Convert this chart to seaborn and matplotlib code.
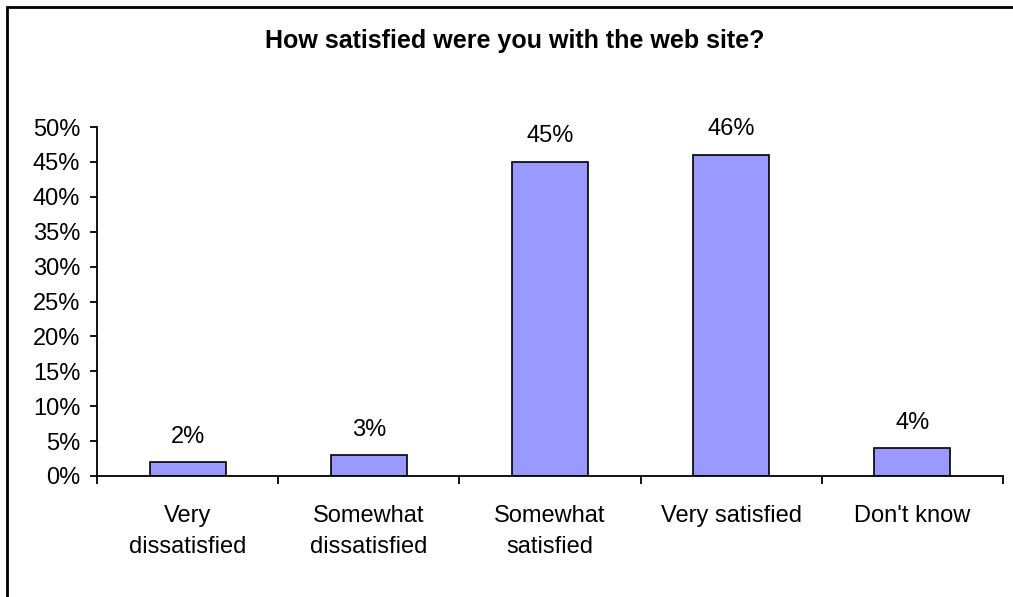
import matplotlib
matplotlib.use("Agg")
import matplotlib.pyplot as plt
from matplotlib.patches import Rectangle
from matplotlib.ticker import FixedLocator, PercentFormatter
import seaborn as sns
import pandas as pd
import numpy as np

categories = ["Very\ndissatisfied", "Somewhat\ndissatisfied", "Somewhat\nsatisfied",
              "Very satisfied", "Don't know"]
shares = [0.02, 0.03, 0.45, 0.46, 0.04]
value_labels = ["2%", "3%", "45%", "46%", "4%"]
title = "How satisfied were you with the web site?"

sns.set_theme(style="white")
plt.rcParams["font.family"] = ["Liberation Sans", "DejaVu Sans"]

df = pd.DataFrame({"category": categories, "share": shares})

fig = plt.figure(figsize=(10.13, 5.97), dpi=100)
ax = fig.add_axes([97 / 1013, 1 - 476 / 597, (1003 - 97) / 1013, (476 - 127) / 597])

sns.barplot(data=df, x="category", y="share", color="#9999FF", saturation=1,
            edgecolor="black", linewidth=1.2, width=0.42, ax=ax)

ax.set_ylim(0, 0.5)
ax.set_xlim(-0.5, len(categories) - 0.5)
ax.yaxis.set_major_locator(FixedLocator(np.arange(0, 0.501, 0.05)))
ax.yaxis.set_major_formatter(PercentFormatter(1.0, decimals=0))

# Category labels at bar centres, tick marks on the category boundaries
ax.set_xticks(range(len(categories)))
ax.set_xticklabels(categories, fontsize=17, linespacing=1.5)
ax.xaxis.set_minor_locator(FixedLocator(np.arange(-0.5, len(categories), 1.0)))
ax.tick_params(axis="x", which="major", length=0, pad=21)
ax.tick_params(axis="x", which="minor", length=6, width=1.3, color="black", bottom=True)
ax.tick_params(axis="y", which="major", length=5, width=1.3, color="black", pad=7,
               labelsize=17, left=True)
for lbl in ax.get_yticklabels() + ax.get_xticklabels():
    lbl.set_color("black")

ax.set_xlabel("")
ax.set_ylabel("")
for side in ["top", "right"]:
    ax.spines[side].set_visible(False)
for side in ["left", "bottom"]:
    ax.spines[side].set_color("black")
    ax.spines[side].set_linewidth(1.3)

for i, (v, txt) in enumerate(zip(shares, value_labels)):
    ax.annotate(txt, (i, v), xytext=(0, 14), textcoords="offset points",
                ha="center", va="baseline", fontsize=17, color="black")

fig.text(515 / 1013, 1 - 41 / 597, title, ha="center", va="center",
         fontsize=18, fontweight="bold", color="black")

# Chart-area frame
fig.patches.append(Rectangle((6.5 / 1013, -0.1), 1.2, 1 - 6.5 / 597 + 0.1,
                             transform=fig.transFigure, fill=False,
                             edgecolor="black", linewidth=2, zorder=10))

fig.savefig("out.png", dpi=100)
